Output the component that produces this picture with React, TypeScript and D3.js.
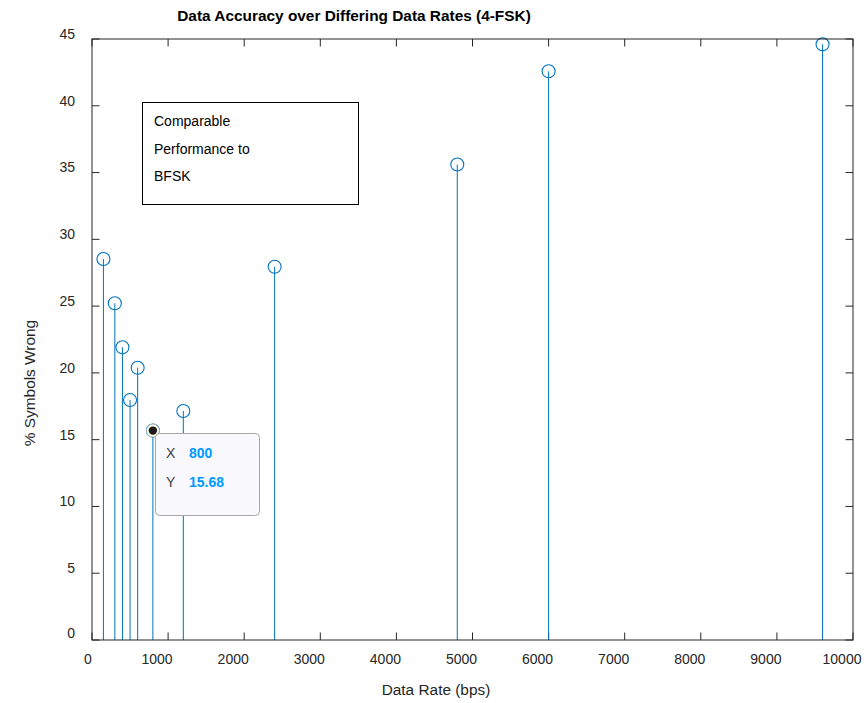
import React from "react";
import * as d3 from "d3";

// Measured symbol error percentages at each tested data rate (4-FSK)
const rates = [150, 300, 400, 500, 600, 800, 1200, 2400, 4800, 6000, 9600];
const pctWrong = [28.53, 25.21, 21.92, 17.97, 20.39, 15.68, 17.15, 27.95, 35.6, 42.58, 44.6];
const xTicks = [0, 1000, 2000, 3000, 4000, 5000, 6000, 7000, 8000, 9000, 10000];
const yTicks = [0, 5, 10, 15, 20, 25, 30, 35, 40, 45];
const noteLines = ["Comparable", "Performance to", "BFSK"];
const tipIndex = 5;

const W = 866;
const H = 703;
const left = 92;
const right = 853;
const top = 39;
const bottom = 640;
const axisColor = "#262626";
const stemColor = "#0072BD";
const font = "'Liberation Sans', Arial, Helvetica, sans-serif";

export default function App() {
  const x = d3.scaleLinear().domain([0, 10000]).range([left, right]);
  const y = d3.scaleLinear().domain([0, 45]).range([bottom, top]);
  const tickLen = 7.5;

  const tipX = rates[tipIndex];
  const tipY = pctWrong[tipIndex];
  const tx = x(tipX);
  const ty = y(tipY);

  return (
    <svg
      width={W}
      height={H}
      style={{ position: "absolute", left: 0, top: 0, background: "#fff" }}
      fontFamily={font}
    >
      <rect x={0} y={0} width={W} height={H} fill="#fff" />

      {/* title */}
      <text
        x={354}
        y={20.5}
        textAnchor="middle"
        fontSize={15.4}
        fontWeight="bold"
        fill="#000"
      >
        Data Accuracy over Differing Data Rates (4-FSK)
      </text>

      {/* ticks on all four sides */}
      {xTicks.map((t) => (
        <g key={"xt" + t}>
          <line x1={x(t)} x2={x(t)} y1={bottom} y2={bottom - tickLen} stroke={axisColor} />
          <line x1={x(t)} x2={x(t)} y1={top} y2={top + tickLen} stroke={axisColor} />
          <text
            x={x(t) + (t === 0 ? -4 : -11)}
            y={664}
            textAnchor="middle"
            fontSize={14}
            fill={axisColor}
          >
            {t}
          </text>
        </g>
      ))}
      {yTicks.map((t) => (
        <g key={"yt" + t}>
          <line x1={left} x2={left + tickLen} y1={y(t)} y2={y(t)} stroke={axisColor} />
          <line x1={right} x2={right - tickLen} y1={y(t)} y2={y(t)} stroke={axisColor} />
          <text
            x={75}
            y={y(t) - (t === 0 ? 6.5 : 5)}
            dy="0.35em"
            textAnchor="end"
            fontSize={14}
            fill={axisColor}
          >
            {t}
          </text>
        </g>
      ))}

      {/* stems */}
      {rates.map((r, i) => (
        <g key={"s" + r}>
          <line x1={x(r)} x2={x(r)} y1={y(0)} y2={y(pctWrong[i])} stroke={stemColor} strokeWidth={1} />
          <circle cx={x(r)} cy={y(pctWrong[i])} r={6.5} fill="none" stroke={stemColor} strokeWidth={1.1} />
        </g>
      ))}

      {/* axes box */}
      <rect x={left} y={top} width={right - left} height={bottom - top} fill="none" stroke={axisColor} strokeWidth={1} />

      {/* axis labels */}
      <text x={436} y={695} textAnchor="middle" fontSize={15.4} fill={axisColor}>
        Data Rate (bps)
      </text>
      <text
        transform={`translate(35,383) rotate(-90)`}
        textAnchor="middle"
        fontSize={15.4}
        fill={axisColor}
      >
        % Symbols Wrong
      </text>

      {/* annotation */}
      <rect x={142.5} y={102.5} width={216} height={102} fill="#fff" stroke="#000" strokeWidth={1} />
      {noteLines.map((s, i) => (
        <text key={s} x={154} y={121.2 + i * 27.5} dy="0.35em" fontSize={14} fill="#000">
          {s}
        </text>
      ))}

      {/* data tip */}
      <circle cx={tx} cy={ty} r={6.5} fill="#fffbe0" stroke="#9fb3c8" strokeWidth={0.8} />
      <circle cx={tx} cy={ty} r={4.2} fill="#1a1a1a" />
      <rect x={155.5} y={433.5} width={104} height={82} rx={4} fill="#f9f9fd" stroke="#a6a6a6" strokeWidth={1} />
      <text x={166} y={453} dy="0.35em" fontSize={14} fill="#404040">X</text>
      <text x={189} y={453} dy="0.35em" fontSize={14} fontWeight="bold" fill="#0099ff">
        {tipX}
      </text>
      <text x={166} y={482} dy="0.35em" fontSize={14} fill="#404040">Y</text>
      <text x={189} y={482} dy="0.35em" fontSize={14} fontWeight="bold" fill="#0099ff">
        {tipY.toFixed(2)}
      </text>
    </svg>
  );
}
